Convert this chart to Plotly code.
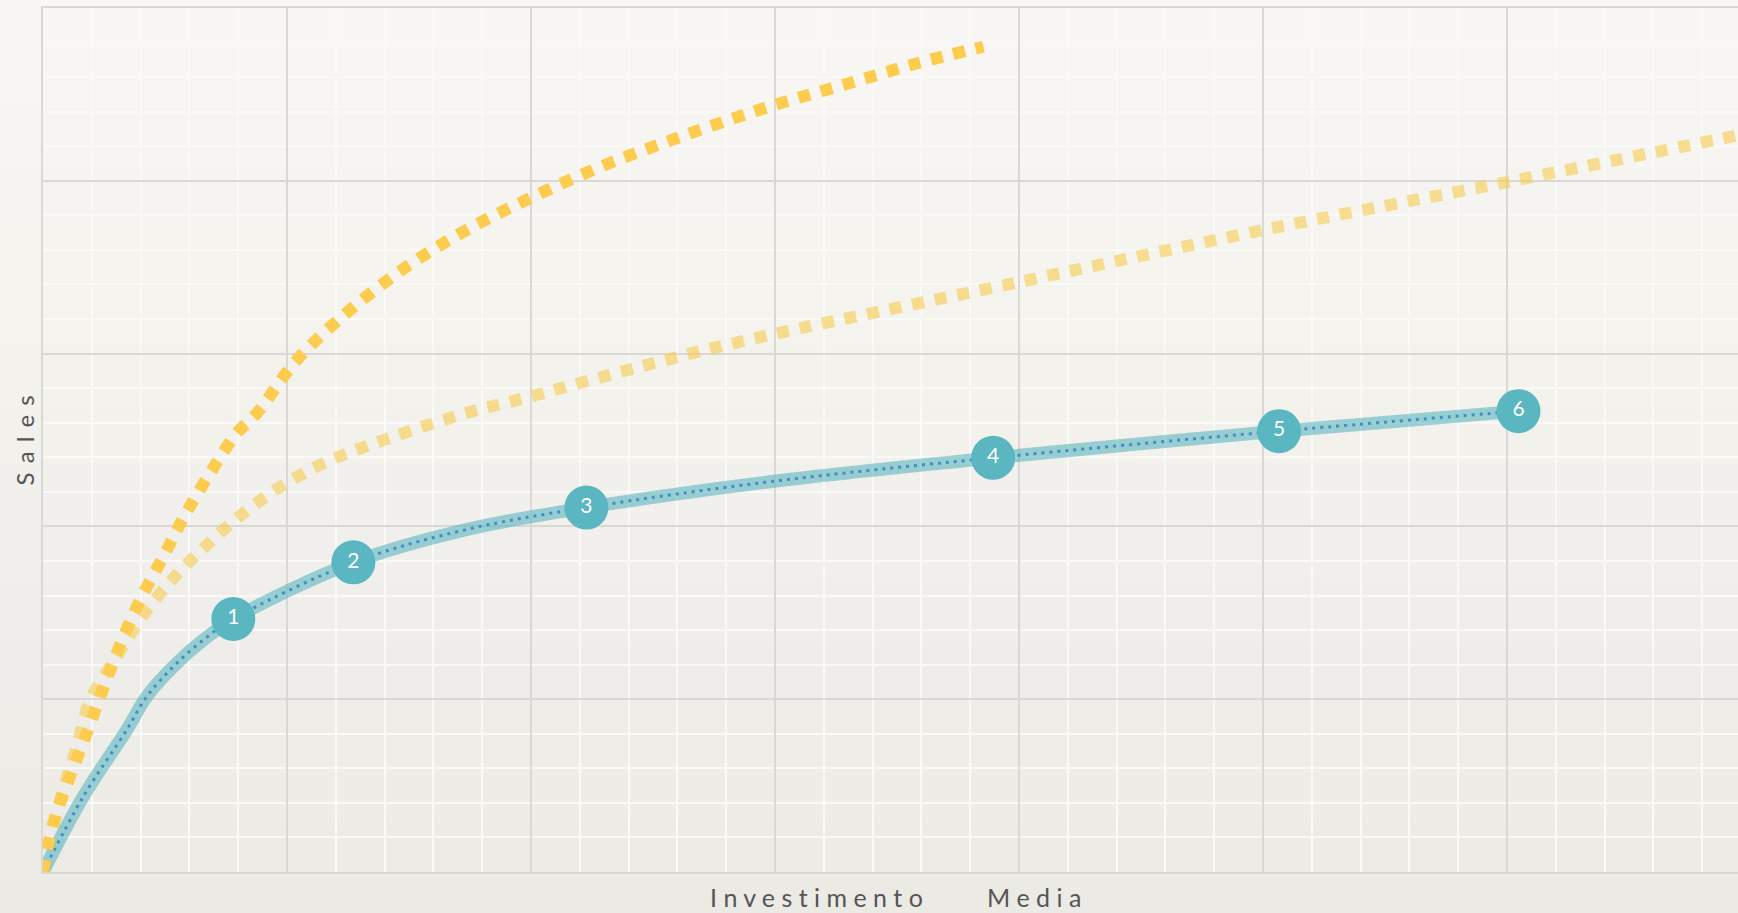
import plotly.graph_objects as go

# ---- data ----
teal_line_x = [0.0, 0.165, 0.343, 0.425, 0.534, 0.657, 0.78, 1.272, 1.73, 2.227, 3.004, 3.894, 5.066, 6.047]
teal_line_y = [0.0, 0.436, 0.822, 1.015, 1.188, 1.343, 1.464, 1.792, 1.98, 2.109, 2.263, 2.397, 2.551, 2.667]

point_x = [0.78, 1.272, 2.227, 3.894, 5.066, 6.047]
point_y = [1.464, 1.792, 2.109, 2.397, 2.551, 2.667]
point_labels = ["1", "2", "3", "4", "5", "6"]

dark_x = [0.0, 0.042, 0.111, 0.179, 0.247, 0.316, 0.398, 0.493, 0.582, 0.684, 0.794, 0.876,
          1.04, 1.258, 1.49, 1.736, 2.009, 2.283, 2.556, 2.829, 3.02, 3.30, 3.58, 3.854]
dark_y = [0.0, 0.281, 0.552, 0.803, 1.063, 1.314, 1.574, 1.825, 2.066, 2.307, 2.539, 2.654,
          2.963, 3.252, 3.503, 3.715, 3.908, 4.08, 4.226, 4.361, 4.448, 4.563, 4.679, 4.776]

light_x = [0.0, 0.07, 0.138, 0.193, 0.302, 0.411, 0.534, 0.671, 0.821, 0.985, 1.149, 1.34,
           1.709, 1.996, 2.474, 2.857, 4.0, 5.0, 6.0, 6.893, 7.0]
light_y = [0.0, 0.417, 0.725, 0.995, 1.246, 1.487, 1.70, 1.892, 2.076, 2.240, 2.365, 2.471,
           2.645, 2.751, 2.934, 3.069, 3.414, 3.715, 3.993, 4.248, 4.28]

x_title = "Investimento Media"
y_title = "Sales"

# ---- styling ----
TEAL = "#5AB6C1"
FONT = "Lato"
GAP = " "
WORD_GAP = "\u00a0" * 10

def spaced(s, gap=GAP):
    words = s.split(" ")
    return WORD_GAP.join(gap.join(list(w)) for w in words)

fig = go.Figure()

fig.add_trace(go.Scatter(
    x=light_x, y=light_y, mode="lines",
    line=dict(color="rgba(247,204,77,0.6)", width=12, dash="12px,11px", shape="spline"),
    hoverinfo="skip", showlegend=False))

fig.add_trace(go.Scatter(
    x=teal_line_x, y=teal_line_y, mode="lines",
    line=dict(color="rgba(91,182,193,0.6)", width=13, shape="spline"),
    hoverinfo="skip", showlegend=False))

fig.add_trace(go.Scatter(
    x=teal_line_x, y=teal_line_y, mode="lines",
    line=dict(color="#3E91C2", width=3, dash="3px,5px", shape="spline"),
    hoverinfo="skip", showlegend=False))

fig.add_trace(go.Scatter(
    x=dark_x, y=dark_y, mode="lines",
    line=dict(color="#FDCB4E", width=12, dash="12px,11px", shape="spline"),
    hoverinfo="skip", showlegend=False))

fig.add_trace(go.Scatter(
    x=point_x, y=point_y, mode="markers+text",
    marker=dict(size=44, color=TEAL, line=dict(width=0)),
    text=point_labels, textposition="middle center",
    textfont=dict(family=FONT, size=21, color="white"),
    cliponaxis=False, hoverinfo="skip", showlegend=False))

# soft paper gradient background
top = (248, 247, 243)
bot = (235, 234, 229)
n = 16
shapes = []
for i in range(n):
    t = i / (n - 1)
    c = tuple(round(top[k] + (bot[k] - top[k]) * t) for k in range(3))
    shapes.append(dict(type="rect", xref="paper", yref="paper",
                       x0=-0.05, x1=1.05,
                       y0=1.02 - (i + 1) * (1.1 / n), y1=1.02 - i * (1.1 / n) + 0.002,
                       fillcolor="rgb(%d,%d,%d)" % c, line=dict(width=0), layer="below"))

MAJOR = "#D9D8D5"
MINOR = "#F9F9F7"

fig.update_layout(
    width=1738, height=913, autosize=False,
    margin=dict(l=43, r=0, t=8, b=41),
    paper_bgcolor="#F1F0EB", plot_bgcolor="rgba(0,0,0,0)",
    shapes=shapes,
    xaxis=dict(range=[0, 1695 / 244], dtick=1, tick0=0, showgrid=True, gridcolor=MAJOR, gridwidth=2,
               minor=dict(dtick=0.2, tick0=0, showgrid=True, gridcolor=MINOR, gridwidth=1.5),
               showticklabels=False, ticks="", zeroline=False,
               showline=True, linecolor=MAJOR, linewidth=2, mirror=True, fixedrange=True),
    yaxis=dict(range=[0, 5], dtick=1, tick0=0, showgrid=True, gridcolor=MAJOR, gridwidth=2,
               minor=dict(dtick=0.2, tick0=0, showgrid=True, gridcolor=MINOR, gridwidth=1.5),
               showticklabels=False, ticks="", zeroline=False,
               showline=True, linecolor=MAJOR, linewidth=2, mirror=False, fixedrange=True),
    annotations=[
        dict(text=spaced(x_title), xref="paper", yref="paper", x=(895 - 43) / 1695, y=0,
             xanchor="center", yanchor="top", yshift=-8, showarrow=False,
             font=dict(family=FONT, size=25, color="#555555")),
        dict(text=spaced(y_title, " \u2009"), xref="paper", yref="paper", x=0, y=0.5,
             xanchor="right", yanchor="middle", xshift=-3, textangle=-90, showarrow=False,
             font=dict(family=FONT, size=24, color="#555555")),
    ],
)

fig.write_html("out.html", config={"displayModeBar": False},
               post_script="document.body.style.margin='0';document.body.style.overflow='hidden';")
